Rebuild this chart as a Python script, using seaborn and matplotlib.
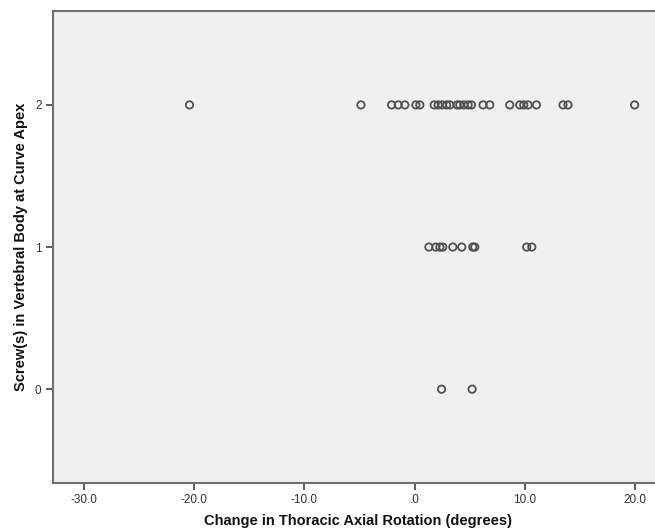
import matplotlib
matplotlib.use("Agg")
import matplotlib.pyplot as plt
import seaborn as sns
import pandas as pd

# change in thoracic axial rotation (degrees), grouped by screw count
rotation_2 = [-20.4, -4.86, -2.08, -1.48, -0.88, 0.12, 0.48, 1.78, 2.14, 2.5,
              2.9, 3.2, 3.86, 4.1, 4.47, 4.86, 5.16, 6.21, 6.82, 8.63,
              9.54, 9.9, 10.29, 11.05, 13.46, 13.91, 19.95]
rotation_1 = [1.3, 1.93, 2.3, 2.56, 3.47, 4.28, 5.28, 5.46, 10.17, 10.63]
rotation_0 = [2.45, 5.22]

x_ticks = [-30, -20, -10, 0, 10, 20]
x_tick_labels = ["-30.0", "-20.0", "-10.0", ".0", "10.0", "20.0"]
y_ticks = [0, 1, 2]

df = pd.DataFrame({
    "rotation": rotation_2 + rotation_1 + rotation_0,
    "screws": [2] * len(rotation_2) + [1] * len(rotation_1) + [0] * len(rotation_0),
})

sns.set_style("white")
plt.rcParams["font.family"] = ["Liberation Sans", "DejaVu Sans"]

fig = plt.figure(figsize=(6.55, 5.32), dpi=100)
ax = fig.add_axes([0.0805, 0.0921, 0.933, 0.887])
ax.set_facecolor("#f0f0f0")

sns.scatterplot(data=df, x="rotation", y="screws", ax=ax, marker="o",
                s=28, facecolor="none", edgecolor="#505050", linewidth=1.3)

ax.set_xlim(-32.8, 22.6)
ax.set_ylim(-0.66, 2.66)
ax.set_xticks(x_ticks)
ax.set_xticklabels(x_tick_labels)
ax.set_yticks(y_ticks)

for sp in ax.spines.values():
    sp.set_color("#707070")
    sp.set_linewidth(1.5)

ax.tick_params(axis="both", direction="out", length=5, width=1.2,
               color="#404040", labelsize=8.5, labelcolor="#333333", pad=3)
ax.tick_params(axis="both", which="both", bottom=True, left=True)

ax.set_xlabel("Change in Thoracic Axial Rotation (degrees)", fontsize=10.5,
              fontweight="bold", color="#111111", labelpad=6)
ax.set_ylabel("Screw(s) in Vertebral Body at Curve Apex", fontsize=10.5,
              fontweight="bold", color="#111111", labelpad=5)

fig.savefig("out.png", dpi=100, facecolor="white")
